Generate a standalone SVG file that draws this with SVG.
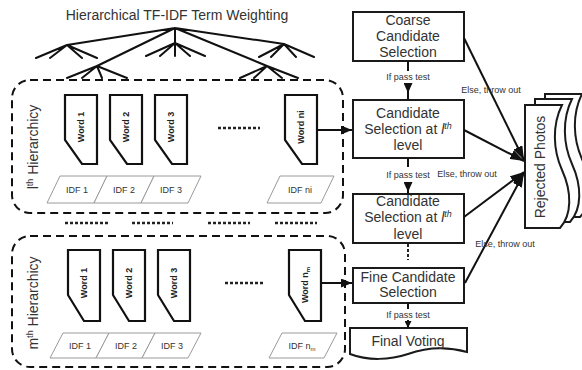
<svg xmlns="http://www.w3.org/2000/svg" width="582" height="370" viewBox="0 0 582 370">
<style>
.bg{fill:#fff}
.box{fill:#fff;stroke:#1a1a1a;stroke-width:2}
.card{fill:#fff;stroke:#111;stroke-width:2.2;stroke-linejoin:miter}
.idf{fill:#fff;stroke:#9a9a9a;stroke-width:1}
.dash{fill:none;stroke:#111;stroke-width:2;stroke-dasharray:8 5}
.dots{fill:none;stroke:#222;stroke-width:2.5;stroke-dasharray:3 2}
.tree{fill:none;stroke:#111;stroke-width:2;stroke-linecap:round}
.ln{fill:none;stroke:#111;stroke-width:2}
.t{font-family:"Liberation Sans",Arial,sans-serif;font-size:14px;fill:#333;text-anchor:middle}
.w{font-family:"Liberation Sans",Arial,sans-serif;font-size:9px;font-weight:bold;fill:#222;text-anchor:middle}
.s{font-family:"Liberation Sans",Arial,sans-serif;font-size:9px;fill:#333;text-anchor:middle}
</style>
<defs>
<marker id="ah" markerUnits="userSpaceOnUse" markerWidth="11" markerHeight="9" refX="11" refY="4.5" orient="auto"><path d="M0,0 L11,4.5 L0,9 Z" fill="#111"/></marker>
<marker id="big" markerUnits="userSpaceOnUse" markerWidth="14" markerHeight="10" refX="14" refY="5" orient="auto"><path d="M0,0 L14,5 L0,10 Z" fill="#111"/></marker>
<marker id="dn" markerUnits="userSpaceOnUse" markerWidth="10" markerHeight="9" refX="10" refY="4.5" orient="auto"><path d="M0,0 L10,4.5 L0,9 Z" fill="#111"/></marker>
<marker id="dns" markerUnits="userSpaceOnUse" markerWidth="7" markerHeight="7" refX="7" refY="3.5" orient="auto"><path d="M0,0 L7,3.5 L0,7 Z" fill="#111"/></marker>
</defs>
<rect class="bg" x="0" y="0" width="582" height="370"/>

<g id="title"><text class="t" x="177" y="20">Hierarchical TF-IDF Term Weighting</text></g>

<g id="tfidf-tree">
<path class="tree" d="M175,28 L67,45 M175,28 L97,66 M175,28 L175,43 M175,28 L267,66 M175,28 L284,44
M67,45 L36,58 M67,45 L50,58 M67,45 L82,58 M67,45 L97,58
M97,66 L67,78 M97,66 L82,78 M97,66 L102,78 M97,66 L127,78
M175,43 L146,56 M175,43 L160,56 M175,43 L175,56 M175,43 L190,56 M175,43 L205,56
M267,66 L240,78 M267,66 L254,78 M267,66 L282,78 M267,66 L298,78
M284,44 L259,57 M284,44 L271,57 M284,44 L296,57 M284,44 L314,57"/>
</g>

<g id="hierarchy-l">
<rect class="dash" x="12" y="80" width="331" height="133" rx="18"/>
<text class="t" transform="translate(33,147) rotate(-90)" y="5">l<tspan font-size="9" dy="-5">th</tspan><tspan dy="5"> Hierarchicy</tspan></text>
<path class="card" d="M65,95 H97 V164 H82 L65,140 Z"/>
<text class="w" transform="translate(81,127) rotate(-90)" y="3">Word 1</text>
<path class="card" d="M110,95 H142 V164 H127 L110,140 Z"/>
<text class="w" transform="translate(126,127) rotate(-90)" y="3">Word 2</text>
<path class="card" d="M155,95 H187 V164 H172 L155,140 Z"/>
<text class="w" transform="translate(171,127) rotate(-90)" y="3">Word 3</text>
<path class="dots" d="M218,128 H260"/>
<path class="card" d="M285,95 H317 V164 H302 L285,140 Z"/>
<text class="w" transform="translate(301,127) rotate(-90)" y="3">Word ni</text>
<path class="idf" d="M60,176 H107 L94,203 H47 Z"/>
<text class="s" x="77" y="193">IDF 1</text>
<path class="idf" d="M107,176 H154 L141,203 H94 Z"/>
<text class="s" x="124" y="193">IDF 2</text>
<path class="idf" d="M154,176 H201 L188,203 H141 Z"/>
<text class="s" x="171" y="193">IDF 3</text>
<path class="idf" d="M280,176 H334 L321,203 H267 Z"/>
<text class="s" x="300" y="193">IDF ni</text>
</g>

<g id="separator">
<path class="dots" d="M65,223 H108 M132,223 H173 M208,223 H250 M275,223 H317"/>
</g>

<g id="hierarchy-m">
<rect class="dash" x="12" y="236" width="333" height="131" rx="18"/>
<text class="t" transform="translate(33,303) rotate(-90)" y="5">m<tspan font-size="9" dy="-5">th</tspan><tspan dy="5"> Hierarchicy</tspan></text>
<path class="card" d="M68,250 H100 V321 H84 L68,295 Z"/>
<text class="w" transform="translate(84,283) rotate(-90)" y="3">Word 1</text>
<path class="card" d="M113,250 H145 V321 H129 L113,295 Z"/>
<text class="w" transform="translate(129,283) rotate(-90)" y="3">Word 2</text>
<path class="card" d="M158,250 H190 V321 H174 L158,295 Z"/>
<text class="w" transform="translate(174,283) rotate(-90)" y="3">Word 3</text>
<path class="dots" d="M225,283 H263"/>
<path class="card" d="M289,250 H321 V321 H305 L289,295 Z"/>
<text class="w" transform="translate(305,285) rotate(-90)" y="3">Word n<tspan font-size="6" dy="2">m</tspan></text>
<path class="idf" d="M63,333 H109 L96,358 H50 Z"/>
<text class="s" x="80" y="349">IDF 1</text>
<path class="idf" d="M109,333 H155 L142,358 H96 Z"/>
<text class="s" x="126" y="349">IDF 2</text>
<path class="idf" d="M155,333 H201 L188,358 H142 Z"/>
<text class="s" x="172" y="349">IDF 3</text>
<path class="idf" d="M282,333 H337 L324,358 H269 Z"/>
<text class="s" x="302" y="349">IDF n<tspan font-size="6" dy="2">m</tspan></text>
</g>

<g id="coarse">
<rect class="box" x="353" y="12" width="111" height="49"/>
<text class="t" x="408" y="25">Coarse</text>
<text class="t" x="408" y="41">Candidate</text>
<text class="t" x="408" y="57">Selection</text>
</g>

<g id="select-l1">
<rect class="box" x="353" y="100" width="111" height="58"/>
<text class="t" x="408" y="118">Candidate</text>
<text class="t" x="408" y="134">Selection at <tspan font-style="italic">l</tspan><tspan font-size="9" font-style="italic" dy="-5">th</tspan></text>
<text class="t" x="408" y="150">level</text>
</g>

<g id="select-l2">
<rect class="box" x="353" y="194" width="111" height="49"/>
<text class="t" x="408" y="206">Candidate</text>
<text class="t" x="408" y="222">Selection at <tspan font-style="italic">l</tspan><tspan font-size="9" font-style="italic" dy="-5">th</tspan></text>
<text class="t" x="408" y="239">level</text>
</g>

<g id="fine">
<rect class="box" x="353" y="268" width="111" height="35"/>
<text class="t" x="408" y="282">Fine Candidate</text>
<text class="t" x="408" y="297">Selection</text>
</g>

<g id="final-voting">
<path class="box" d="M350,328 H467 V352 C445,346 425,348 408,354 C390,360 368,361 350,354 Z"/>
<text class="t" x="408" y="346">Final Voting</text>
</g>

<g id="rejected-photos">
<path class="box" d="M545,94 H582 C572,114 573,139 582,159 C592,181 592,204 580,217 H545 Z"/>
<path class="box" d="M535,99 H572 C562,119 563,144 572,164 C582,186 582,209 570,222 H535 Z"/>
<path class="box" d="M525,105 H562 C552,125 553,150 562,170 C572,192 572,215 560,228 H525 Z"/>
<text class="t" transform="translate(540,167) rotate(-90)" y="5">Rejected Photos</text>
</g>

<g id="connectors">
<path class="ln" d="M318,130 H352" marker-end="url(#ah)"/>
<path class="ln" d="M321,283 H352" marker-end="url(#ah)"/>
<path class="ln" d="M408,61 V71"/>
<text class="s" x="408" y="80">If pass test</text>
<path class="ln" d="M408,83 V93" marker-end="url(#dn)"/>
<path class="ln" d="M408,92 V100"/>
<path class="ln" d="M408,158 V167"/>
<text class="s" x="408" y="178">If pass test</text>
<path class="ln" d="M408,182 V192" marker-end="url(#dn)"/>
<path class="ln" d="M408,191 V194"/>
<path class="dots" d="M408,244 V260" style="stroke-width:2"/>
<path class="ln" d="M408,303 V309"/>
<text class="s" x="408" y="318">If pass test</text>
<path class="ln" d="M408,320 V328" marker-end="url(#dns)"/>
<path class="ln" d="M464,38 L524,160" marker-end="url(#big)"/>
<path class="ln" d="M464,130 L524,161" marker-end="url(#big)"/>
<path class="ln" d="M464,217 L524,172" marker-end="url(#big)"/>
<path class="ln" d="M465,283 L524,173" marker-end="url(#big)"/>
<text class="s" x="491" y="93">Else, throw out</text>
<text class="s" x="467" y="177">Else, throw out</text>
<text class="s" x="505" y="247">Else, throw out</text>
</g>
</svg>
